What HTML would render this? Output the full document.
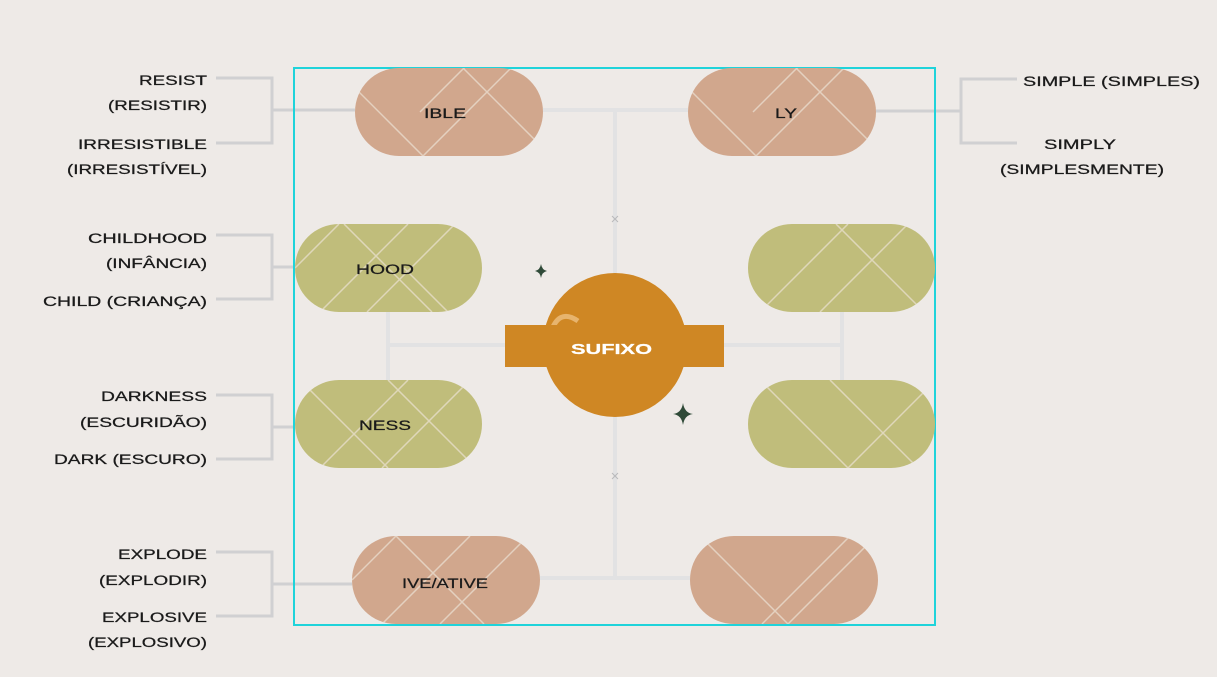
<!DOCTYPE html>
<html><head><meta charset="utf-8"><style>
html,body{margin:0;padding:0;background:#eeeae7;}
svg{display:block;}
text{font-family:"Liberation Sans",sans-serif;font-size:13.5px;fill:#1a1a1a;stroke:#1a1a1a;stroke-width:0.25px;}
</style></head><body>
<svg width="1217" height="677" viewBox="0 0 1217 677" xmlns="http://www.w3.org/2000/svg">
<defs>
<clipPath id="c1"><rect x="355" y="68" width="188" height="88" rx="44"/></clipPath>
<clipPath id="c2"><rect x="688" y="68" width="188" height="88" rx="44"/></clipPath>
<clipPath id="c3"><rect x="295" y="224" width="187" height="88" rx="44"/></clipPath>
<clipPath id="c4"><rect x="748" y="224" width="187" height="88" rx="44"/></clipPath>
<clipPath id="c5"><rect x="295" y="380" width="187" height="88" rx="44"/></clipPath>
<clipPath id="c6"><rect x="748" y="380" width="187" height="88" rx="44"/></clipPath>
<clipPath id="c7"><rect x="352" y="536" width="188" height="88" rx="44"/></clipPath>
<clipPath id="c8"><rect x="690" y="536" width="188" height="88" rx="44"/></clipPath>
</defs>
<g stroke="#d0d0d2" stroke-width="3" fill="none">
<path d="M216 78H272V143H216M272 110H355"/>
<path d="M216 235H272V299H216M272 267H295"/>
<path d="M216 395H272V459H216M272 427H295"/>
<path d="M216 552H272V616H216M272 584H352"/>
<path d="M1017 79H961V143H1017M961 111H876"/>
</g>
<g stroke="#e2e2e3" stroke-width="4" fill="none">
<path d="M543 110H688M615 110V580M540 578H690"/>
<path d="M388 312V380M388 345H505M842 312V380M724 345H842"/>
</g>
<g stroke="#b9b9bb" stroke-width="1">
<path d="M612 216l6 6M618 216l-6 6M612 473l6 6M618 473l-6 6"/>
</g>
<rect x="294" y="68" width="641" height="557" fill="none" stroke="#1fd3da" stroke-width="2"/>
<g fill="#d1a78d">
<rect x="355" y="68" width="188" height="88" rx="44"/>
<rect x="688" y="68" width="188" height="88" rx="44"/>
<rect x="352" y="536" width="188" height="88" rx="44"/>
<rect x="690" y="536" width="188" height="88" rx="44"/>
</g>
<g fill="#c0bd7b">
<rect x="295" y="224" width="187" height="88" rx="44"/>
<rect x="748" y="224" width="187" height="88" rx="44"/>
<rect x="295" y="380" width="187" height="88" rx="44"/>
<rect x="748" y="380" width="187" height="88" rx="44"/>
</g>
<g stroke="#ece2d6" stroke-opacity="0.7" stroke-width="1.5">
<g clip-path="url(#c1)"><path d="M335 68l88 88M423 156l88-88M463 68l88 88M510 22l-90 90"/></g>
<g clip-path="url(#c2)"><path d="M668 68l88 88M756 156l88-88M796 68l88 88M843 22l-90 90"/></g>
<g clip-path="url(#c3)"><path d="M295 268l44-44M344 224l88 88M320 312l88-88M455 224l-88 88M404 268l44 44"/></g>
<g clip-path="url(#c4)"><path d="M760 312l88-88M836 224l88 88M908 224l-88 88"/></g>
<g clip-path="url(#c5)"><path d="M300 380l88 88M320 468l88-88M388 380l88 88M470 380l-88 88"/></g>
<g clip-path="url(#c6)"><path d="M760 380l88 88M848 468l88-88M830 380l88 88"/></g>
<g clip-path="url(#c7)"><path d="M352 580l44-44M396 536l88 88M440 624l88-88M470 536l-88 88"/></g>
<g clip-path="url(#c8)"><path d="M700 536l88 88M788 624l88-88M850 536l-88 88"/></g>
</g>
<circle cx="615" cy="345" r="72" fill="#cf8724"/>
<path d="M550 335 q8-28 28-14" stroke="#e7b46e" stroke-width="5" fill="none"/>
<rect x="505" y="325" width="219" height="42" fill="#cf8724"/>
<text x="571" y="354" textLength="81" lengthAdjust="spacingAndGlyphs" style="fill:#fff;stroke:#fff;font-size:15px;font-weight:bold">SUFIXO</text>
<path d="M541 264 q1 6 6 7 q-5 1 -6 7 q-1-6 -6-7 q5-1 6-7z" fill="#2f4a38"/>
<path d="M683 403 q1.5 10 10 11 q-8.5 1 -10 11 q-1.5-10 -10-11 q8.5-1 10-11z" fill="#2f4a38"/>
<g>
<text x="424" y="118" textLength="42" lengthAdjust="spacingAndGlyphs">IBLE</text>
<text x="775" y="118" textLength="22" lengthAdjust="spacingAndGlyphs">LY</text>
<text x="356" y="274" textLength="58" lengthAdjust="spacingAndGlyphs">HOOD</text>
<text x="359" y="430" textLength="52" lengthAdjust="spacingAndGlyphs">NESS</text>
<text x="402" y="588" textLength="86" lengthAdjust="spacingAndGlyphs">IVE/ATIVE</text>
</g>
<g>
<text x="139" y="85" textLength="68" lengthAdjust="spacingAndGlyphs">RESIST</text>
<text x="108" y="110" textLength="99" lengthAdjust="spacingAndGlyphs">(RESISTIR)</text>
<text x="78" y="149" textLength="129" lengthAdjust="spacingAndGlyphs">IRRESISTIBLE</text>
<text x="67" y="174" textLength="140" lengthAdjust="spacingAndGlyphs">(IRRESISTÍVEL)</text>
<text x="88" y="243" textLength="119" lengthAdjust="spacingAndGlyphs">CHILDHOOD</text>
<text x="106" y="268" textLength="101" lengthAdjust="spacingAndGlyphs">(INFÂNCIA)</text>
<text x="43" y="306" textLength="164" lengthAdjust="spacingAndGlyphs">CHILD (CRIANÇA)</text>
<text x="101" y="401" textLength="106" lengthAdjust="spacingAndGlyphs">DARKNESS</text>
<text x="80" y="427" textLength="127" lengthAdjust="spacingAndGlyphs">(ESCURIDÃO)</text>
<text x="54" y="464" textLength="153" lengthAdjust="spacingAndGlyphs">DARK (ESCURO)</text>
<text x="118" y="559" textLength="89" lengthAdjust="spacingAndGlyphs">EXPLODE</text>
<text x="99" y="585" textLength="108" lengthAdjust="spacingAndGlyphs">(EXPLODIR)</text>
<text x="102" y="622" textLength="105" lengthAdjust="spacingAndGlyphs">EXPLOSIVE</text>
<text x="88" y="647" textLength="119" lengthAdjust="spacingAndGlyphs">(EXPLOSIVO)</text>
</g>
<text x="1023" y="86" textLength="177" lengthAdjust="spacingAndGlyphs">SIMPLE (SIMPLES)</text>
<text x="1044" y="149" textLength="72" lengthAdjust="spacingAndGlyphs">SIMPLY</text>
<text x="1000" y="174" textLength="164" lengthAdjust="spacingAndGlyphs">(SIMPLESMENTE)</text>
</svg>
</body></html>
